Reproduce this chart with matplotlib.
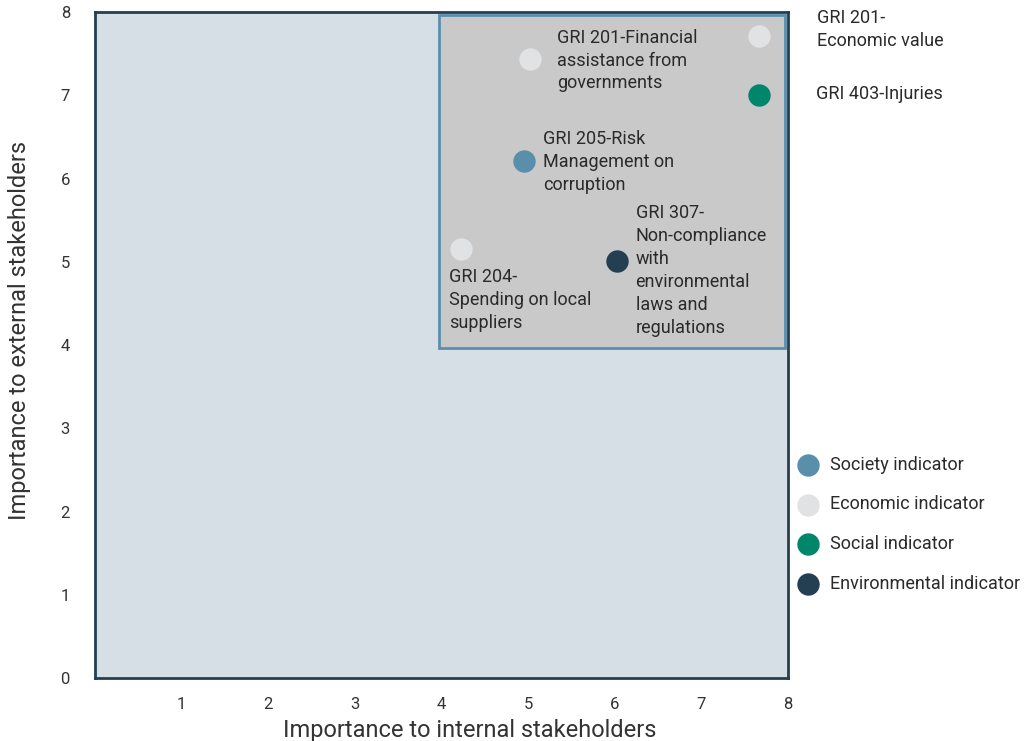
import matplotlib
matplotlib.use("Agg")
import matplotlib.pyplot as plt
from matplotlib.patches import Rectangle

plt.rcParams['font.family'] = ['Roboto', 'DejaVu Sans']

categories = ["Society indicator", "Economic indicator", "Social indicator", "Environmental indicator"]
colors = {"Society indicator": "#5a8fab", "Economic indicator": "#e1e2e4",
          "Social indicator": "#00866a", "Environmental indicator": "#243f52"}

labels = ["GRI 201-Financial\nassistance from\ngovernments",
          "GRI 201-\nEconomic value",
          "GRI 403-Injuries",
          "GRI 205-Risk\nManagement on\ncorruption",
          "GRI 204-\nSpending on local\nsuppliers",
          "GRI 307-\nNon-compliance\nwith\nenvironmental\nlaws and\nregulations"]
internal = [5.02, 7.66, 7.66, 4.95, 4.23, 6.03]
external = [7.44, 7.71, 7.0, 6.21, 5.15, 5.01]
cat = ["Economic indicator", "Economic indicator", "Social indicator",
       "Society indicator", "Economic indicator", "Environmental indicator"]
label_x = [5.33, 8.33, 8.32, 5.17, 4.09, 6.24]
label_y = [7.8, 8.04, 7.12, 6.58, 4.92, 5.69]

fig = plt.figure(figsize=(10.29, 7.41), dpi=100)
ax = fig.add_axes([0.0923, 0.085, 0.6735, 0.8988])
ax.set_facecolor("#d7dfe6")
ax.set_xlim(0, 8)
ax.set_ylim(0, 8)
for s in ax.spines.values():
    s.set_color("#243f52")
    s.set_linewidth(2)

ax.add_patch(Rectangle((3.97, 3.97), 4.0, 4.0, facecolor="#c9c9c9",
                       edgecolor="#5a8fab", linewidth=2, zorder=1))

for c in categories:
    xs = [x for x, k in zip(internal, cat) if k == c]
    ys = [y for y, k in zip(external, cat) if k == c]
    ax.scatter(xs, ys, s=260, color=colors[c], label=c, zorder=3, linewidths=0)

for t, x, y in zip(labels, label_x, label_y):
    ax.text(x, y, t, ha="left", va="top", fontsize=13, color="#2a2a2a",
            linespacing=1.35, clip_on=False, zorder=4)

ax.set_xticks(range(1, 9))
ax.set_yticks(range(0, 9))
ax.tick_params(length=0, labelsize=12, labelcolor="#333333")
ax.tick_params(axis="x", pad=14)
ax.tick_params(axis="y", pad=18)
ax.set_xlabel("Importance to internal stakeholders", fontsize=17, color="#333333")
ax.set_ylabel("Importance to external stakeholders", fontsize=17, color="#333333")
ax.xaxis.set_label_coords((470 - 95) / 693, -0.062)
ax.yaxis.set_label_coords(-0.092, (678 - 330) / 666)

fig.legend(loc="upper left", bbox_to_anchor=(0.752, 0.407), frameon=False,
           prop={"size": 13}, labelspacing=1.2,
           handletextpad=0.2, markerscale=1.0, labelcolor="#2a2a2a")

fig.savefig("out.png", dpi=100)
